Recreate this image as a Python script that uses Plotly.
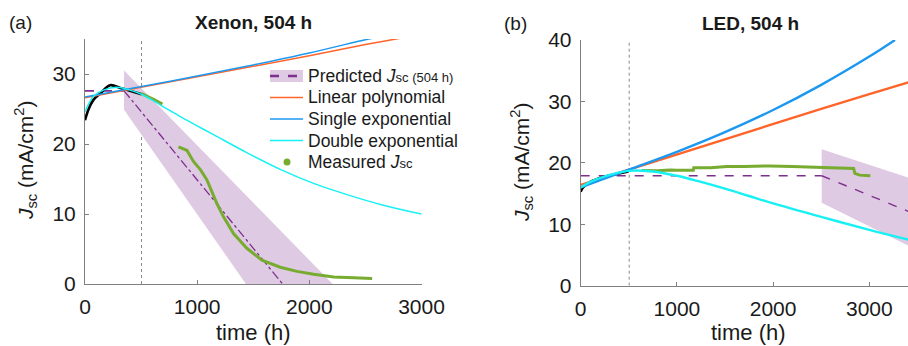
import plotly.graph_objects as go

W, H = 908, 346
FONT = "Liberation Sans, Arial, Helvetica, sans-serif"

# ---------------- Panel (a): Xenon, 504 h ----------------
a_black_t = [0, 30, 75, 135, 225, 315, 400, 504]
a_black_y = [23.4, 24.9, 26.3, 27.2, 28.4, 28.0, 27.6, 27.1]

a_meas_t = [504, 560, 620, 690, None, 833, 870, 908, 967, 1030, 1086, 1176, 1235,
            1324, 1443, 1577, 1741, 1890, 2039, 2217, 2396, 2560]
a_meas_y = [27.2, 26.8, 26.3, 25.7, None, 19.6, 19.4, 19.1, 17.5, 16.3, 14.9, 11.5, 9.6,
            7.2, 5.1, 3.4, 2.4, 1.8, 1.4, 1.0, 0.9, 0.8]

a_lin_t = [0, 504, 1000, 1500, 2000, 2500, 2842]
a_lin_y = [26.6, 28.1, 29.6, 31.1, 32.6, 34.2, 35.2]

a_single_t = [0, 504, 1000, 1500, 2000, 2500, 2589]
a_single_y = [26.7, 28.2, 29.7, 31.3, 33.0, 34.9, 35.2]

a_double_t = [0, 75, 165, 280, 400, 504, 670, 850, 1000, 1150, 1450, 1750, 2050, 2350, 2650, 3000]
a_double_y = [24.6, 26.8, 27.7, 28.1, 27.7, 27.1, 25.6, 23.9, 22.6, 21.3, 18.7, 16.3, 14.3, 12.7, 11.3, 10.0]

a_pred_flat_t = [0, 348]
a_pred_flat_y = [27.6, 27.6]
a_pred_t = [348, 1762]
a_pred_y = [27.6, 0]
a_band_t = [348, 348, 2208, 1435]
a_band_y = [24.9, 30.5, 0, 0]

# ---------------- Panel (b): LED, 504 h ----------------
b_black_t = [0, 25, 100, 236, 409, 496]
b_black_y = [15.3, 16.0, 16.9, 17.7, 18.3, 18.6]

b_meas_t = [635, 800, 930, 1000, 1170, 1175, 1350, 1520, 1700, 1850, 1970, 2200, 2525, 2700,
            2837, 2850, 2900, 3010]
b_meas_y = [18.75, 18.7, 18.85, 18.8, 18.8, 19.2, 19.2, 19.4, 19.4, 19.5, 19.5, 19.4, 19.25, 19.2,
            19.1, 18.3, 18.0, 17.9]

b_lin_t = [0, 500, 1000, 1500, 2000, 2500, 3000, 3406]
b_lin_y = [16.4, 18.9, 21.3, 23.8, 26.3, 28.8, 31.2, 33.1]

b_single_t = [0, 500, 1000, 1500, 2000, 2500, 3000, 3267]
b_single_y = [16.0, 18.9, 21.8, 25.0, 28.6, 32.7, 37.3, 40.0]

b_double_t = [0, 100, 250, 495, 750, 1000, 1250, 1500, 1750, 2000, 2500, 3000, 3406]
b_double_y = [16.0, 16.9, 17.8, 18.7, 18.6, 17.9, 16.9, 15.8, 14.6, 13.4, 11.2, 9.1, 7.5]

b_pred_flat_t = [0, 2505]
b_pred_flat_y = [17.9, 17.9]
b_pred_t = [2505, 3406]
b_pred_y = [17.9, 12.1]
b_band_t = [2505, 2505, 3406, 3406]
b_band_y = [13.5, 22.2, 17.6, 6.5]

stress_time = 504
x_ticks = [0, 1000, 2000, 3000]
a_y_ticks = [0, 10, 20, 30]
b_y_ticks = [0, 10, 20, 30, 40]

# colours
C_ORANGE = "#FF6428"
C_BLUE = "#1C98F0"
C_CYAN = "#17F0F4"
C_GREEN = "#77AC30"
C_PURPLE = "#7E2F8E"
C_BAND = "#DECAE2"
C_AXIS = "#808080"
C_TEXT = "#1a1a1a"

fig = go.Figure()


def add_panel(xa, ya, band_t, band_y, flat_t, flat_y, pred_t, pred_y, pred_dash,
              meas_t, meas_y, black_t, black_y, lin_t, lin_y, sgl_t, sgl_y, dbl_t, dbl_y, lw):
    fig.add_trace(go.Scatter(x=band_t, y=band_y, fill="toself", fillcolor=C_BAND, mode="none",
                             xaxis=xa, yaxis=ya, hoverinfo="skip"))
    fig.add_trace(go.Scatter(x=flat_t, y=flat_y, mode="lines", xaxis=xa, yaxis=ya,
                             line=dict(color=C_PURPLE, width=1.8 if xa == "x" else 1.4, dash="dash")))
    fig.add_trace(go.Scatter(x=pred_t, y=pred_y, mode="lines", xaxis=xa, yaxis=ya,
                             line=dict(color=C_PURPLE, width=1.3 if xa == "x" else 1.4, dash=pred_dash)))
    fig.add_trace(go.Scatter(x=meas_t, y=meas_y, mode="lines", xaxis=xa, yaxis=ya,
                             line=dict(color=C_GREEN, width=3.0), connectgaps=False))
    fig.add_trace(go.Scatter(x=black_t, y=black_y, mode="lines", xaxis=xa, yaxis=ya,
                             line=dict(color="black", width=2.6, shape="spline")))
    fig.add_trace(go.Scatter(x=lin_t, y=lin_y, mode="lines", xaxis=xa, yaxis=ya,
                             line=dict(color=C_ORANGE, width=lw)))
    fig.add_trace(go.Scatter(x=sgl_t, y=sgl_y, mode="lines", xaxis=xa, yaxis=ya,
                             line=dict(color=C_BLUE, width=lw, shape="spline")))
    fig.add_trace(go.Scatter(x=dbl_t, y=dbl_y, mode="lines", xaxis=xa, yaxis=ya,
                             line=dict(color=C_CYAN, width=lw, shape="spline")))


add_panel("x", "y", a_band_t, a_band_y, a_pred_flat_t, a_pred_flat_y, a_pred_t, a_pred_y, "dashdot",
          a_meas_t, a_meas_y, a_black_t, a_black_y, a_lin_t, a_lin_y, a_single_t, a_single_y,
          a_double_t, a_double_y, 1.5)
add_panel("x2", "y2", b_band_t, b_band_y, b_pred_flat_t, b_pred_flat_y, b_pred_t, b_pred_y, "dash",
          b_meas_t, b_meas_y, b_black_t, b_black_y, b_lin_t, b_lin_y, b_single_t, b_single_y,
          b_double_t, b_double_y, 2.4)

# dotted marker of the 504 h stress time
for xa, ya, top in (("x", "y", 35), ("x2", "y2", 40)):
    fig.add_shape(type="line", xref=xa, yref=ya, x0=stress_time, x1=stress_time, y0=0, y1=top,
                  line=dict(color="#8a8a8a", width=1, dash="dot"), layer="below")


def px(x):
    return x / W


def py(y):
    return 1 - y / H


axis_common = dict(showline=True, linecolor=C_AXIS, linewidth=1, ticks="inside", ticklen=4,
                   tickcolor=C_AXIS, showgrid=False, zeroline=False, automargin=False,
                   tickfont=dict(family=FONT, size=21, color=C_TEXT))

fig.update_layout(
    width=W, height=H, autosize=False,
    margin=dict(l=0, r=0, t=0, b=0, pad=0, autoexpand=False),
    paper_bgcolor="white", plot_bgcolor="white", showlegend=False,
    xaxis=dict(domain=[px(85), px(421.5)], range=[0, 3000], tickvals=x_ticks, anchor="y",
               ticklabelstandoff=4, **axis_common),
    yaxis=dict(domain=[py(284), py(39)], range=[0, 35], tickvals=a_y_ticks, anchor="x",
               ticklabelstandoff=4, **axis_common),
    xaxis2=dict(domain=[px(580.7), 1.0], range=[0, 3402], tickvals=x_ticks, anchor="y2",
                ticklabelstandoff=4, **axis_common),
    yaxis2=dict(domain=[py(285.7), py(40)], range=[0, 40], tickvals=b_y_ticks, anchor="x2",
                ticklabelstandoff=4, **axis_common),
)

ann = []


def text(x, y, s, size, xanchor="center", angle=0):
    ann.append(dict(x=px(x), y=py(y), xref="paper", yref="paper", text=s, showarrow=False,
                    xanchor=xanchor, yanchor="middle", textangle=angle,
                    font=dict(family=FONT, size=size, color=C_TEXT)))


text(20, 22, "(a)", 19)
text(515, 23, "(b)", 19)
text(253, 22, "<b>Xenon, 504 h</b>", 19)
text(750, 23, "<b>LED, 504 h</b>", 19)
text(253, 332, "time (h)", 22)
text(748, 332, "time (h)", 22)
ytitle = "<i>J</i><sub>sc</sub> (mA/cm<sup>2</sup>)"
text(25, 160, ytitle, 21, angle=-90)
text(521, 162, ytitle, 21, angle=-90)

# legend of panel (a)
leg_x0, leg_x1, leg_tx = 270, 303, 306
rows = [76, 97.5, 119, 140.5, 162]
fig.add_shape(type="rect", xref="paper", yref="paper", x0=px(leg_x0), x1=px(leg_x1),
              y0=py(rows[0] + 6), y1=py(rows[0] - 6), fillcolor=C_BAND, line=dict(width=0))
fig.add_shape(type="line", xref="paper", yref="paper", x0=px(leg_x0), x1=px(leg_x1),
              y0=py(rows[0]), y1=py(rows[0]), line=dict(color=C_PURPLE, width=2.4, dash="dash"))
for r, c in zip(rows[1:4], [C_ORANGE, C_BLUE, C_CYAN]):
    fig.add_shape(type="line", xref="paper", yref="paper", x0=px(leg_x0), x1=px(leg_x1),
                  y0=py(r), y1=py(r), line=dict(color=c, width=1.5))
fig.add_shape(type="circle", xref="paper", yref="paper", x0=px(283.5), x1=px(290.5),
              y0=py(rows[4] + 3.5), y1=py(rows[4] - 3.5), fillcolor=C_GREEN, line=dict(width=0))

small = "<span style='font-size:13px'>"
text(leg_tx, rows[0], "Predicted <i>J</i>" + small + "sc (504 h)</span>", 17.5, xanchor="left")
text(leg_tx, rows[1], "Linear polynomial", 17.5, xanchor="left")
text(leg_tx, rows[2], "Single exponential", 17.5, xanchor="left")
text(leg_tx, rows[3], "Double exponential", 17.5, xanchor="left")
text(leg_tx, rows[4], "Measured <i>J</i>" + small + "sc</span>", 17.5, xanchor="left")

fig.update_layout(annotations=ann)
fig.write_html(
    "out.html",
    config={"responsive": False, "displayModeBar": False},
    post_script="document.documentElement.style.margin='0';document.body.style.margin='0';"
                "document.body.style.padding='0';document.body.style.overflow='hidden';",
)
